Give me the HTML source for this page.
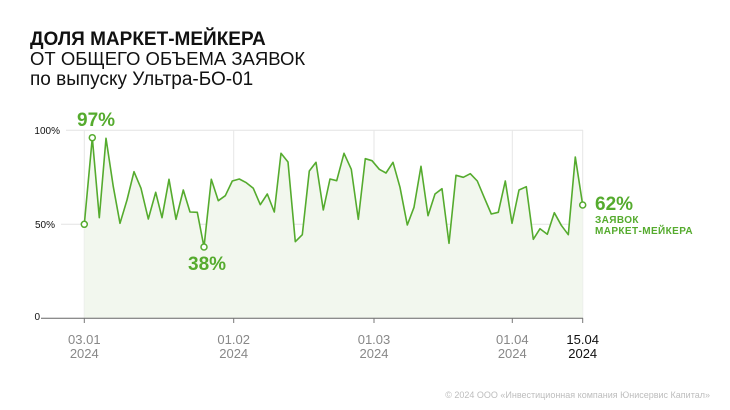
<!DOCTYPE html>
<html><head><meta charset="utf-8"><style>
html,body{margin:0;padding:0;background:#fff;}
svg{display:block;}
text{font-family:"Liberation Sans","DejaVu Sans",sans-serif;}
</style></head><body>
<svg width="730" height="410" viewBox="0 0 730 410" xmlns="http://www.w3.org/2000/svg">
<text x="30" y="45" font-size="19" font-weight="bold" fill="#111">ДОЛЯ МАРКЕТ-МЕЙКЕРА</text>
<text x="30" y="65" font-size="18.5" fill="#111">ОТ ОБЩЕГО ОБЪЕМА ЗАЯВОК</text>
<text x="30" y="85" font-size="19" fill="#111">по выпуску Ультра-БО-01</text>

<line x1="66" y1="130.3" x2="583" y2="130.3" stroke="#e4e4e4" stroke-width="1"/>
<line x1="61" y1="224.3" x2="583" y2="224.3" stroke="#e4e4e4" stroke-width="1"/>
<g stroke="#e6e6e6" stroke-width="1">
<line x1="84.3" y1="130" x2="84.3" y2="318"/>
<line x1="233.7" y1="130" x2="233.7" y2="318"/>
<line x1="374" y1="130" x2="374" y2="318"/>
<line x1="512.3" y1="130" x2="512.3" y2="318"/>
<line x1="582.7" y1="130" x2="582.7" y2="318"/>
</g>
<text x="60" y="134" font-size="10" fill="#111" text-anchor="end">100%</text>
<text x="55" y="228" font-size="10" fill="#111" text-anchor="end">50%</text>
<text x="40" y="320" font-size="10" fill="#111" text-anchor="end">0</text>

<polygon fill="#f2f7ee" points="84.3,318 84.3,224.3 92.3,137.7 99.3,217.7 106,138.3 113.3,186.7 120,223.3 127,200 134,171.7 141,188.3 148.3,219 155.7,192.3 162,217.7 169,179.3 176,219.3 183.3,190 190,212 197.3,212.3 204,247 211.3,179.3 218.3,200.7 225.3,195.7 232.3,181 239.3,179 246.3,182.7 253.3,188.3 260.3,204.7 267.3,194 274.3,212 281,153.3 288,162 295.3,241.7 302.3,234.7 309.3,171 316,162.3 323.3,210 330,179 336.7,180.7 344,153.3 351.3,169.3 358.3,219.3 365.3,158.7 372,160.7 379.3,169.3 386,173 393,162.3 400,187.3 407.3,225 414,207.3 421,166.3 428,215.7 435,194 442,188.7 449,243.3 456,175.3 463.3,177.3 470.3,173.7 477.3,181 484.3,197.7 491.3,214 498.3,212.3 505.3,181 512,223.3 519,190 526.3,186.7 533.3,239.3 540,228.7 547.3,234.3 554.3,212.7 561.3,225.3 568.3,234.7 575.3,157 582.7,205 582.7,318"/>
<polyline fill="none" stroke="#55ab2e" stroke-width="1.6" stroke-linejoin="round" points="84.3,224.3 92.3,137.7 99.3,217.7 106,138.3 113.3,186.7 120,223.3 127,200 134,171.7 141,188.3 148.3,219 155.7,192.3 162,217.7 169,179.3 176,219.3 183.3,190 190,212 197.3,212.3 204,247 211.3,179.3 218.3,200.7 225.3,195.7 232.3,181 239.3,179 246.3,182.7 253.3,188.3 260.3,204.7 267.3,194 274.3,212 281,153.3 288,162 295.3,241.7 302.3,234.7 309.3,171 316,162.3 323.3,210 330,179 336.7,180.7 344,153.3 351.3,169.3 358.3,219.3 365.3,158.7 372,160.7 379.3,169.3 386,173 393,162.3 400,187.3 407.3,225 414,207.3 421,166.3 428,215.7 435,194 442,188.7 449,243.3 456,175.3 463.3,177.3 470.3,173.7 477.3,181 484.3,197.7 491.3,214 498.3,212.3 505.3,181 512,223.3 519,190 526.3,186.7 533.3,239.3 540,228.7 547.3,234.3 554.3,212.7 561.3,225.3 568.3,234.7 575.3,157 582.7,205"/>
<g fill="#fff" stroke="#55ab2e" stroke-width="1.5">
<circle cx="84.3" cy="224.3" r="3"/>
<circle cx="92.3" cy="137.7" r="3"/>
<circle cx="204" cy="247" r="3"/>
<circle cx="582.7" cy="205" r="3"/>
</g>
<text x="77" y="126" font-size="19" font-weight="bold" fill="#55ab2e">97%</text>
<text x="188" y="270" font-size="19" font-weight="bold" fill="#55ab2e">38%</text>
<text x="595" y="210" font-size="19" font-weight="bold" fill="#55ab2e">62%</text>
<text x="595" y="223" font-size="10" font-weight="bold" fill="#55ab2e" letter-spacing="0.4">ЗАЯВОК</text>
<text x="595" y="234" font-size="10" font-weight="bold" fill="#55ab2e" letter-spacing="0.4">МАРКЕТ-МЕЙКЕРА</text>

<line x1="41" y1="318.3" x2="583" y2="318.3" stroke="#666" stroke-width="1"/>
<g stroke="#777" stroke-width="1">
<line x1="84.3" y1="318" x2="84.3" y2="323"/>
<line x1="233.7" y1="318" x2="233.7" y2="323"/>
<line x1="374" y1="318" x2="374" y2="323"/>
<line x1="512.3" y1="318" x2="512.3" y2="323"/>
<line x1="582.7" y1="318" x2="582.7" y2="323"/>
</g>
<g font-size="13" fill="#888" text-anchor="middle">
<text x="84.3" y="344">03.01</text><text x="84.3" y="358">2024</text>
<text x="233.7" y="344">01.02</text><text x="233.7" y="358">2024</text>
<text x="374" y="344">01.03</text><text x="374" y="358">2024</text>
<text x="512.3" y="344">01.04</text><text x="512.3" y="358">2024</text>
</g>
<g font-size="13" fill="#111" text-anchor="middle">
<text x="582.7" y="344">15.04</text><text x="582.7" y="358">2024</text>
</g>
<text x="710" y="398" font-size="9" fill="#bdbdbd" text-anchor="end">© 2024 ООО «Инвестиционная компания Юнисервис Капитал»</text>
</svg>
</body></html>
